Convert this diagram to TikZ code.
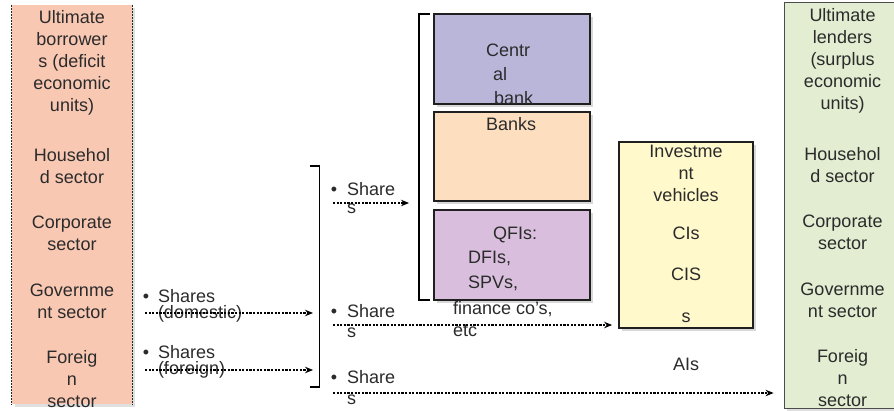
\documentclass[tikz,border=0pt]{standalone}
\usepackage{fontspec}
\setmainfont{Liberation Sans}
\usetikzlibrary{arrows.meta,shadows}
\definecolor{txtc}{HTML}{2B2B2B}
\definecolor{borrowc}{HTML}{F9C8B3}
\definecolor{lendc}{HTML}{E2EDD1}
\definecolor{cbc}{HTML}{BAB6DA}
\definecolor{bankc}{HTML}{FDDFC0}
\definecolor{qfic}{HTML}{D9BFDD}
\definecolor{invc}{HTML}{FFF9CC}
\begin{document}
\begin{tikzpicture}[x=1pt,y=-1pt,
  txt/.style={font=\fontsize{18}{22}\selectfont, text=txtc, inner sep=0pt, outer sep=0pt},
  midbox/.style={draw=black!88, line width=1.8pt, inner sep=0pt, minimum width=156pt,
     drop shadow={shadow xshift=3pt, shadow yshift=-3pt, opacity=0.3}},
  sidebox/.style={inner sep=0pt, drop shadow={shadow xshift=3pt, shadow yshift=-3pt, opacity=0.25}},
  flow/.style={line width=1.3pt, dash pattern=on 2.2pt off 1.4pt, -{Stealth[length=8pt,width=6.5pt]}},
  brack/.style={line width=1.5pt, black},
  lbl/.style={txt, anchor=base west},
  bul/.style={txt, anchor=base}
]
\useasboundingbox (0,0) rectangle (894,410);
\clip (0,0) rectangle (894,410);
\fill[white] (0,0) rectangle (894,410);

% left box: ultimate borrowers
\node[sidebox, fill=borrowc, minimum width=120pt, minimum height=399pt] (lbox) at (72,204.5) {};
\draw[dash pattern=on 2pt off 1pt, line width=0.8pt, black!85]
  (lbox.north west) -- (lbox.south west) (lbox.north east) -- (lbox.south east);
\node[txt, align=center, anchor=north] (ltext) at (72,10.6)
  {Ultimate\\borrower\\s (deficit\\economic\\units)\\[28pt]Househol\\d sector\\[23pt]Corporate\\sector\\[24pt]Governme\\nt sector\\[23pt]Foreig\\n\\sector};

% right box: ultimate lenders
\node[sidebox, fill=lendc, draw=black!70, line width=0.8pt, minimum width=117pt, minimum height=406pt] (rbox) at (842.5,205) {};
\node[txt, align=center, anchor=north] (rtext) at (842.5,8.6)
  {Ultimate\\lenders\\(surplus\\economic\\units)\\[29pt]Househol\\d sector\\[23pt]Corporate\\sector\\[24pt]Governme\\nt sector\\[23pt]Foreig\\n\\sector};

% middle institution boxes
\node[midbox, fill=cbc, minimum height=90pt] (cb) at (512,59) {};
\node[midbox, fill=bankc, minimum height=89pt] (bk) at (512,156.5) {};
\node[midbox, fill=qfic, minimum height=90pt] (qfi) at (512,255) {};
\node[lbl] (cbt1) at (486,56) {Centr};
\node[lbl] (cbt2) at (493,80) {al};
\node[lbl] (cbt3) at (494,104) {bank};
\node[lbl] (bkt) at (486,130) {Banks};
\node[lbl] (q1) at (493,239) {QFIs:};
\node[lbl] (q2) at (468,263) {DFIs,};
\node[lbl] (q3) at (468,288) {SPVs,};
\node[lbl] (q4) at (453,314) {finance co’s,};
\node[lbl] (q5) at (453,336) {etc};

% investment vehicles
\node[midbox, fill=invc, minimum width=134pt, minimum height=186pt] (inv) at (686,235) {};
\node[txt, align=center, anchor=north] (invt) at (686,145.1)
  {Investme\\nt\\vehicles\\[16pt]CIs\\[19pt]CIS\\[20pt]s};
\node[txt, anchor=base] (ais) at (686,370) {AIs};

% brackets
\coordinate (b1t) at (310,166); \coordinate (b1b) at (310,387);
\draw[brack] (b1t) -- ++(9.5,0) |- (b1b);
\coordinate (b2t) at (430,14); \coordinate (b2b) at (430,300);
\draw[brack] (b2t) -- ++(-11,0) |- (b2b);

% share labels (left)
\node[bul] (bd) at (146,302) {•};
\node[lbl] (sd1) at (158,302) {Shares};
\node[lbl] (sd2) at (158,318) {(domestic)};
\node[bul] (bf) at (146,358) {•};
\node[lbl] (sf1) at (158,358) {Shares};
\node[lbl] (sf2) at (158,374) {(foreign)};

% share labels (right of bracket)
\node[bul] (bt) at (334,195) {•};
\node[lbl] (st1) at (347,195) {Share};
\node[lbl] (st2) at (347,213) {s};
\node[bul] (bm) at (334,317) {•};
\node[lbl] (sm1) at (347,317) {Share};
\node[lbl] (sm2) at (347,337) {s};
\node[bul] (bb) at (334,383) {•};
\node[lbl] (sb1) at (347,383) {Share};
\node[lbl] (sb2) at (347,404) {s};

% flows
\coordinate (fd0) at (145,313); \coordinate (fd1) at (313,313);
\coordinate (ff0) at (145,370); \coordinate (ff1) at (313,370);
\coordinate (ft0) at (333,203); \coordinate (ft1) at (409,203);
\coordinate (fm0) at (333,325); \coordinate (fm1) at (inv.west |- 0,325);
\coordinate (fb0) at (333,393); \coordinate (fb1) at (rbox.west |- 0,393);
\draw[flow] (fd0) -- (fd1);
\draw[flow] (ff0) -- (ff1);
\draw[flow] (ft0) -- (ft1);
\draw[flow, shorten >=6pt] (fm0) -- (fm1);
\draw[flow, shorten >=10pt] (fb0) -- (fb1);
\end{tikzpicture}
\end{document}
